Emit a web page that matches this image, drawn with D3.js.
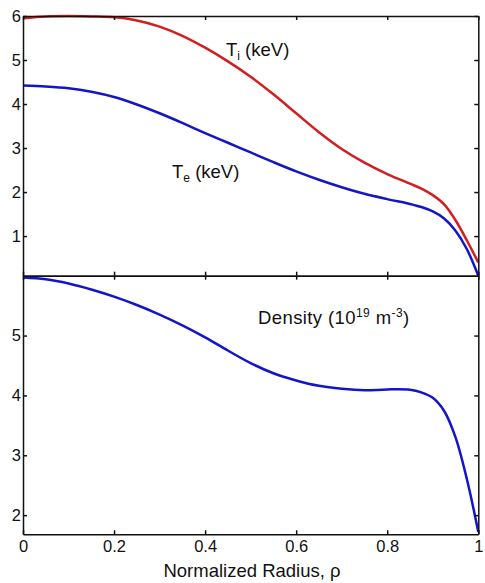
<!DOCTYPE html>
<html>
<head>
    <meta charset="utf-8" />
    <title>Profiles</title>
    <style>
        body { margin: 0; background: #fff; }
        #profile_chart { width: 485px; height: 583px; }
        .axis text { font-family: "Liberation Sans", Arial, sans-serif; font-size: 16.5px; fill: #111; }
        .axis path, .axis line { stroke: #111; stroke-width: 1.5px; }
        .label { font-family: "Liberation Sans", Arial, sans-serif; font-size: 18.5px; fill: #111; }
    </style>
</head>
<body>
    <div id="profile_chart"></div>
    <script src="https://cdnjs.cloudflare.com/ajax/libs/d3/7.8.5/d3.min.js"></script>
    <script>
        // normalized radius samples
        var rho = [0, 0.05, 0.1, 0.15, 0.2, 0.25, 0.3, 0.35, 0.4, 0.45, 0.5, 0.55, 0.6, 0.65, 0.7, 0.75, 0.8, 0.85, 0.875, 0.9, 0.925, 0.95, 0.975, 1]
        var tiValues = [5.95, 5.99, 6.0, 5.99, 5.97, 5.9, 5.76, 5.55, 5.28, 4.97, 4.62, 4.22, 3.79, 3.36, 2.98, 2.67, 2.41, 2.19, 2.08, 1.93, 1.72, 1.36, 0.9, 0.4]
        var teValues = [4.42, 4.40, 4.36, 4.28, 4.16, 3.99, 3.79, 3.57, 3.34, 3.12, 2.9, 2.68, 2.47, 2.28, 2.11, 1.96, 1.84, 1.73, 1.66, 1.56, 1.4, 1.12, 0.7, 0.1]
        var densityValues = [5.97, 5.94, 5.87, 5.77, 5.65, 5.51, 5.35, 5.17, 4.97, 4.75, 4.54, 4.37, 4.25, 4.16, 4.11, 4.085, 4.1, 4.095, 4.05, 3.96, 3.74, 3.3, 2.6, 1.72]
        var xTicks = [0, 0.2, 0.4, 0.6, 0.8, 1]
        var tempTicks = [1, 2, 3, 4, 5, 6]
        var densityTicks = [2, 3, 4, 5]

        var red = "#d21e1e"
        var blue = "#1414c8"

        var left = 23, right = 478.3
        var topPanel = { y0: 16, y1: 275.7, domain: [0.1, 6] }
        var bottomPanel = { y0: 275.7, y1: 534.3, domain: [1.68, 6.0] }

        var svg = d3.select("#profile_chart")
            .append("svg")
            .attr("width", 485)
            .attr("height", 583)

        var x = d3.scaleLinear().domain([0, 1]).range([left, right])
        var yTop = d3.scaleLinear().domain(topPanel.domain).range([topPanel.y1, topPanel.y0])
        var yBottom = d3.scaleLinear().domain(bottomPanel.domain).range([bottomPanel.y1, bottomPanel.y0])

        function drawFrame(y, panel, yTicks, showX) {
            svg.append("g").attr("class", "axis")
                .attr("transform", "translate(" + left + ",0)")
                .call(d3.axisLeft(y).tickValues(yTicks).tickSize(-4).tickSizeOuter(0).tickPadding(2).tickFormat(d3.format("d")))
            svg.append("g").attr("class", "axis")
                .attr("transform", "translate(" + right + ",0)")
                .call(d3.axisRight(y).tickValues(yTicks).tickSize(-4).tickSizeOuter(0).tickFormat(""))
            svg.append("g").attr("class", "axis")
                .attr("transform", "translate(0," + panel.y0 + ")")
                .call(d3.axisTop(x).tickValues(xTicks).tickSize(-4).tickSizeOuter(0).tickFormat(""))
            var bottom = d3.axisBottom(x).tickValues(xTicks).tickSize(-4).tickSizeOuter(0).tickPadding(6)
            if (!showX) bottom.tickFormat("")
            else bottom.tickFormat(function (d) { return d === 0 || d === 1 ? String(d) : d3.format(".1f")(d) })
            svg.append("g").attr("class", "axis")
                .attr("transform", "translate(0," + panel.y1 + ")")
                .call(bottom)
        }

        function drawCurve(y, values, color) {
            var line = d3.line()
                .x(function (d, i) { return x(rho[i]) })
                .y(function (d) { return y(d) })
                .curve(d3.curveCatmullRom.alpha(0.5))
            svg.append("path")
                .datum(values)
                .attr("fill", "none")
                .attr("stroke", color)
                .attr("stroke-width", 2.5)
                .attr("d", line)
        }

        drawCurve(yTop, tiValues, red)
        drawCurve(yTop, teValues, blue)
        drawCurve(yBottom, densityValues, blue)

        drawFrame(yTop, topPanel, tempTicks, false)
        drawFrame(yBottom, bottomPanel, densityTicks, true)

        // labels
        var ti = svg.append("text").attr("class", "label").attr("x", 226).attr("y", 56)
        ti.append("tspan").text("T")
        ti.append("tspan").attr("font-size", "12px").attr("dy", 4).text("i")
        ti.append("tspan").attr("dy", -4).text(" (keV)")

        var te = svg.append("text").attr("class", "label").attr("x", 172).attr("y", 178)
        te.append("tspan").text("T")
        te.append("tspan").attr("font-size", "12px").attr("dy", 4).text("e")
        te.append("tspan").attr("dy", -4).text(" (keV)")

        var dens = svg.append("text").attr("class", "label").attr("x", 258).attr("y", 324)
            .attr("letter-spacing", "0.4px")
        dens.append("tspan").text("Density (10")
        dens.append("tspan").attr("font-size", "12px").attr("dy", -7).text("19")
        dens.append("tspan").attr("dy", 7).text(" m")
        dens.append("tspan").attr("font-size", "12px").attr("dy", -7).text("-3")
        dens.append("tspan").attr("dy", 7).text(")")

        svg.append("text").attr("class", "label")
            .attr("x", 252).attr("y", 577)
            .attr("text-anchor", "middle")
            .text("Normalized Radius, ρ")
    </script>
</body>
</html>
